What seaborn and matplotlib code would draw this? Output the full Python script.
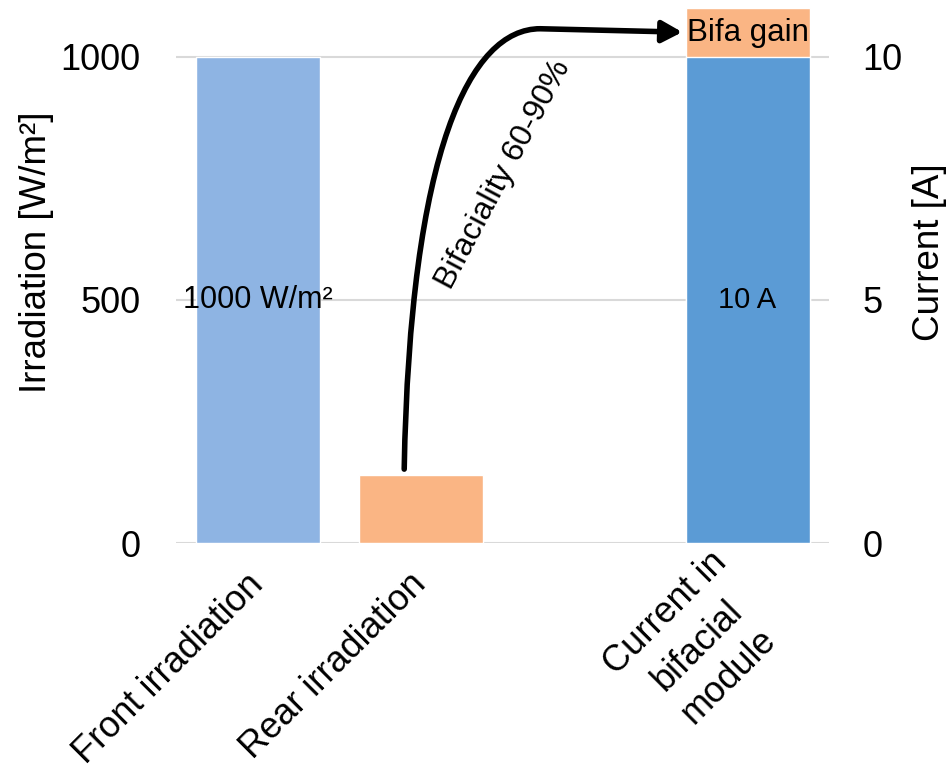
import numpy as np
import pandas as pd
import matplotlib
matplotlib.use("Agg")
import matplotlib.pyplot as plt
from matplotlib.path import Path
from matplotlib.patches import FancyArrowPatch
from matplotlib.transforms import ScaledTranslation
import seaborn as sns

# Category slots on the x axis (third slot intentionally left empty)
categories = ["Front irradiation", "Rear irradiation", " ", "Current in\nbifacial\nmodule"]

# Irradiation values [W/m²]
irr_items = ["Front irradiation", "Rear irradiation"]
irr_values = [1000, 140]

# Current in the bifacial module [A]
cur_item = ["Current in\nbifacial\nmodule"]
cur_front = [10.0]
cur_gain = [1.0]

irr_ticks = [0, 500, 1000]
cur_ticks = [0, 5, 10]

col_front = "#8EB4E3"
col_rear = "#FAB584"
col_current = "#5B9BD5"
grid_col = "#D9D9D9"

sns.set_theme(style="white")
plt.rcParams["font.family"] = ["Liberation Sans", "DejaVu Sans"]
plt.rcParams.update({"text.color": "black", "axes.labelcolor": "black",
                     "xtick.color": "black", "ytick.color": "black"})

fig = plt.figure(figsize=(9.52, 7.71), dpi=100)
ax = fig.add_axes([0.185, 0.2957, 0.686, 0.6935])

irr_df = pd.DataFrame({"item": irr_items, "value": irr_values})
sns.barplot(data=irr_df, x="item", y="value", hue="item", order=categories,
            palette={irr_items[0]: col_front, irr_items[1]: col_rear},
            width=0.76, saturation=1, legend=False, ax=ax, zorder=2)

ax2 = ax.twinx()
cur_total_df = pd.DataFrame({"item": cur_item,
                             "value": [f + g for f, g in zip(cur_front, cur_gain)]})
cur_base_df = pd.DataFrame({"item": cur_item, "value": cur_front})
sns.barplot(data=cur_total_df, x="item", y="value", order=categories,
            color=col_rear, width=0.76, saturation=1, ax=ax2, zorder=2)
sns.barplot(data=cur_base_df, x="item", y="value", order=categories,
            color=col_current, width=0.76, saturation=1, ax=ax2, zorder=3)

ax.set_ylim(0, 1100)
ax2.set_ylim(0, 11)
ax.set_xlim(-0.5, len(categories) - 0.5)

for a in (ax, ax2):
    for s in a.spines.values():
        s.set_visible(False)
    a.tick_params(length=0, labelsize=26, colors="black")

ax.set_yticks(irr_ticks)
ax2.set_yticks(cur_ticks)
for yv in irr_ticks:
    ax.axhline(yv, color=grid_col, lw=1.5, zorder=0)
ax.tick_params(axis="y", pad=25.5)
ax2.tick_params(axis="y", pad=24)

ax.set_ylabel("Irradiation [W/m²]", fontsize=26.5)
ax2.set_ylabel("Current [A]", fontsize=26.5)
ax.yaxis.set_label_coords(-0.187, 0.544)
ax2.yaxis.set_label_coords(1.127, 0.544)
ax.set_xlabel("")
ax2.set_xlabel("")

ax.set_xticks(range(len(categories)))
ax.set_xticklabels(categories, rotation=45, ha="right", va="center",
                   rotation_mode="anchor", multialignment="center",
                   linespacing=1.36, fontsize=26)
ax.tick_params(axis="x", pad=26)
# nudge the three-line label down and to the right
last_lbl = ax.get_xticklabels()[-1]
last_lbl.set_transform(last_lbl.get_transform()
                       + ScaledTranslation(0.06, -0.10, fig.dpi_scale_trans))

# Value labels inside the bars
ax.text(0, 500, f"{irr_values[0]} W/m²", ha="center", va="center", fontsize=22)
ax2.text(3, 5, f"{cur_front[0]:g} A", ha="center", va="center", fontsize=21)
ax2.text(3, cur_front[0] + cur_gain[0] / 2, "Bifa gain",
         ha="center", va="center", fontsize=22.5, zorder=5)

# Curved arrow from the rear irradiation to the bifacial gain
verts = [(0.897, 152), (0.933, 809), (1.301, 1058), (1.730, 1058), (2.600, 1051)]
codes = [Path.MOVETO, Path.CURVE4, Path.CURVE4, Path.CURVE4, Path.LINETO]
arrow = FancyArrowPatch(path=Path(verts, codes),
                        arrowstyle="-|>,head_length=12,head_width=6.5",
                        color="black", lw=4, zorder=6, clip_on=False)
ax.add_patch(arrow)
ax.text(1.505, 757, "Bifaciality 60-90%", rotation=62, ha="center", va="center",
        fontsize=23, zorder=6)

fig.savefig("out.png", dpi=100)
